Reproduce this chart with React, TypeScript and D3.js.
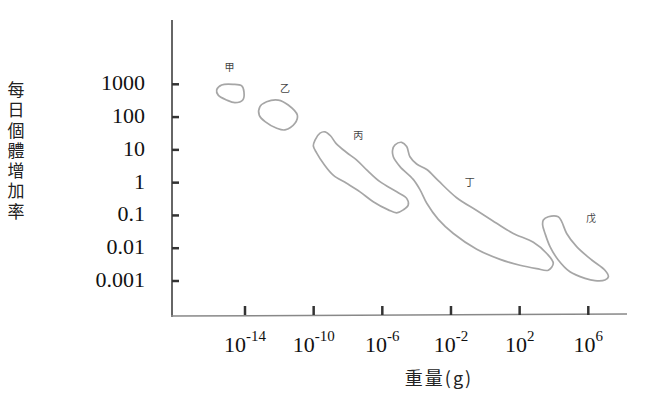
import React from "react";
import * as d3 from "d3";

// x: log10(weight in g), y: log10(daily growth rate per individual)
const xTickExps = [-14, -10, -6, -2, 2, 6];
const yTickExps = [3, 2, 1, 0, -1, -2, -3];
const yTickLabels = ["1000", "100", "10", "1", "0.1", "0.01", "0.001"];
const yTitle = "每日個體增加率";
const xTitle = "重量(g)";

const groupNames = ["甲", "乙", "丙", "丁", "戊"];
const labelPos: [number, number][] = [
  [-14.91, 3.54],
  [-11.67, 2.91],
  [-7.4, 1.48],
  [-0.9, 0.03],
  [6.16, -1.06],
];

const blobJia: [number, number][] = [
  [-15.65, 2.83], [-15.36, 2.98], [-14.68, 3.0], [-14.19, 2.95], [-14.06, 2.77],
  [-14.13, 2.52], [-14.58, 2.44], [-15.07, 2.52], [-15.56, 2.67],
];
const blobYi: [number, number][] = [
  [-13.13, 2.32], [-12.74, 2.47], [-12.06, 2.52], [-11.48, 2.37], [-10.95, 2.06],
  [-11.09, 1.81], [-11.67, 1.61], [-12.15, 1.66], [-12.83, 1.86], [-13.17, 2.06],
];
const blobBing: [number, number][] = [
  [-9.92, 1.3], [-9.63, 1.51], [-9.34, 1.55], [-9.02, 1.43], [-8.7, 1.2],
  [-8.08, 0.92], [-7.49, 0.69], [-6.91, 0.39], [-6.14, 0.03], [-5.16, -0.28],
  [-4.58, -0.48], [-4.49, -0.68], [-4.78, -0.83], [-5.16, -0.92], [-5.65, -0.83],
  [-6.53, -0.58], [-7.3, -0.28], [-8.08, -0.02], [-8.86, 0.23], [-9.44, 0.59],
  [-9.82, 0.9], [-10.02, 1.12],
];
const blobDing: [number, number][] = [
  [-5.26, 1.15], [-4.87, 1.23], [-4.58, 1.1], [-4.39, 0.79], [-4.0, 0.57],
  [-3.41, 0.4], [-2.74, 0.06], [-1.67, -0.46], [-0.5, -0.85], [0.66, -1.24],
  [1.63, -1.55], [2.8, -1.82], [3.58, -2.16], [3.96, -2.46], [3.67, -2.67],
  [2.99, -2.62], [2.02, -2.52], [0.86, -2.34], [-0.5, -2.03], [-1.86, -1.55],
  [-2.74, -1.12], [-3.41, -0.63], [-3.8, -0.22], [-4.2, 0.1], [-4.97, 0.49],
  [-5.36, 0.79], [-5.4, 1.0],
];
const blobWu: [number, number][] = [
  [3.38, -1.14], [3.67, -1.04], [4.25, -1.04], [4.45, -1.19], [4.74, -1.55],
  [5.32, -1.95], [6.2, -2.36], [6.97, -2.67], [7.17, -2.87], [6.97, -2.97],
  [6.39, -2.99], [5.81, -2.92], [4.93, -2.72], [4.25, -2.36], [3.77, -1.95],
  [3.48, -1.55], [3.34, -1.29],
];
const blobs = [blobJia, blobYi, blobBing, blobDing, blobWu];

const W = 653;
const H = 395;
const axisX = 172;
const axisTop = 20;
const axisBottom = 316;
const axisRight = 627;

export default function App() {
  const x = d3.scaleLinear().domain([-14, 6]).range([245, 588.3]);
  const y = d3.scaleLinear().domain([3, -3]).range([84.3, 281]);
  const line = d3
    .line<[number, number]>()
    .x((d) => x(d[0]))
    .y((d) => y(d[1]))
    .curve(d3.curveCatmullRomClosed.alpha(0.5));

  const serif = "'Liberation Serif', 'DejaVu Serif', serif";
  const cjk = "'Noto Sans CJK TC', 'Noto Sans CJK SC', sans-serif";

  return (
    <svg
      width={W}
      height={H}
      style={{ position: "absolute", left: 0, top: 0, background: "#fff" }}
    >
      {/* axes */}
      <line x1={axisX} y1={axisTop} x2={axisX} y2={axisBottom + 1} stroke="#666" strokeWidth={2} />
      <line x1={axisX - 1} y1={axisBottom} x2={axisRight} y2={axisBottom - 2} stroke="#888" strokeWidth={1.5} />

      {/* y ticks */}
      {yTickExps.map((e, i) => (
        <g key={"yt" + i}>
          <line x1={axisX} x2={axisX + 7} y1={y(e)} y2={y(e)} stroke="#333" strokeWidth={2.5} />
          <text
            x={145}
            y={y(e) - 1.5}
            textAnchor="end"
            dominantBaseline="central"
            fontFamily={serif}
            fontSize={22}
            fill="#111"
          >
            {yTickLabels[i]}
          </text>
        </g>
      ))}

      {/* x ticks */}
      {xTickExps.map((e, i) => (
        <g key={"xt" + i}>
          <line x1={x(e)} x2={x(e)} y1={306} y2={axisBottom - 1} stroke="#333" strokeWidth={2.5} />
          <text x={x(e)} y={351.5} textAnchor="middle" fontFamily={serif} fontSize={22} fill="#111">
            <tspan>10</tspan>
            <tspan dy={-11} fontSize={15}>
              {String(e)}
            </tspan>
          </text>
        </g>
      ))}

      {/* y title (vertical) */}
      <text
        x={16}
        y={81}
        style={{ writingMode: "vertical-rl" } as React.CSSProperties}
        fontFamily={cjk}
        fontSize={17}
        letterSpacing={3.3}
        fill="#222"
      >
        {yTitle}
      </text>

      {/* x title */}
      <text x={439} y={385} textAnchor="middle" fontFamily={cjk} fontSize={18} letterSpacing={2} fill="#222">
        {xTitle}
      </text>

      {/* blobs */}
      {blobs.map((b, i) => (
        <path key={"b" + i} d={line(b) || ""} fill="none" stroke="#a6a6a6" strokeWidth={1.7} />
      ))}

      {/* group labels */}
      {groupNames.map((n, i) => (
        <text
          key={"gl" + i}
          x={x(labelPos[i][0])}
          y={y(labelPos[i][1])}
          textAnchor="middle"
          dominantBaseline="central"
          fontFamily={cjk}
          fontSize={10}
          fill="#444"
        >
          {n}
        </text>
      ))}
    </svg>
  );
}
